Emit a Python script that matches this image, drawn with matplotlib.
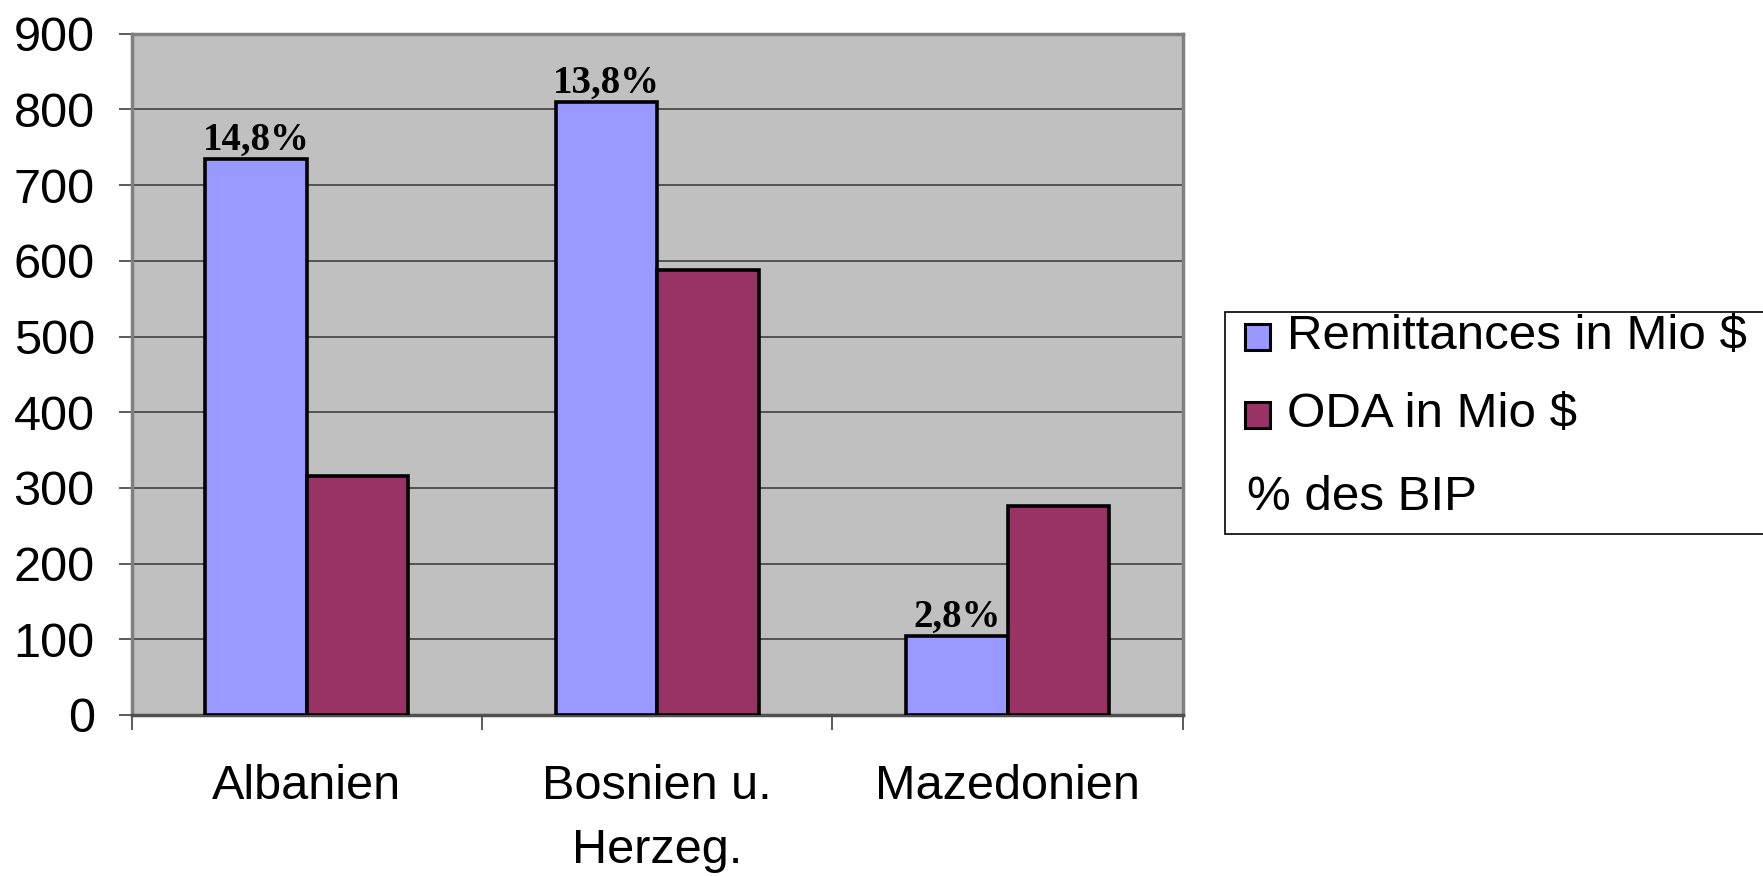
import matplotlib
matplotlib.use("Agg")
import matplotlib.pyplot as plt
import numpy as np
from matplotlib.patches import Rectangle

categories = ["Albanien", "Bosnien u.\nHerzeg.", "Mazedonien"]
remittances = [735, 810, 104]
oda = [316, 588, 276]
pct_labels = ["14,8%", "13,8%", "2,8%"]
series_names = ["Remittances in Mio $", "ODA in Mio $"]
series_colors = ['#9999FF', '#993366']
extra_label = "% des BIP"
yticks = list(range(0, 901, 100))

plt.rcParams['font.family'] = ['Liberation Sans', 'DejaVu Sans']

W, H = 1763, 876
fig = plt.figure(figsize=(W / 100, H / 100), dpi=100)
ax = fig.add_axes([0.0746, 0.1838, 0.671 - 0.0746, 0.9615 - 0.1838])
ax.set_facecolor('#C0C0C0')

x = np.arange(len(categories))
w = 0.289
b1 = ax.bar(x - w / 2, remittances, w, color=series_colors[0], edgecolor='black', linewidth=2.6, zorder=3)
b2 = ax.bar(x + w / 2, oda, w, color=series_colors[1], edgecolor='black', linewidth=2.6, zorder=3)

ax.bar_label(b1, labels=pct_labels, padding=0, fontsize=28, fontweight='bold',
             family=['Liberation Serif', 'DejaVu Serif'], zorder=4)

ax.set_xlim(-0.5, len(categories) - 0.5)
ax.set_ylim(0, 900)
ax.set_yticks(yticks)
ax.yaxis.grid(True, color='#404040', linewidth=1.2, zorder=1)
ax.set_axisbelow(True)
ax.tick_params(axis='y', labelsize=35, length=9.5, width=1.2, color='#404040', pad=17)

ax.set_xticks(x)
ax.set_xticklabels(categories, fontsize=35, linespacing=1.56)
ax.tick_params(axis='x', which='major', length=0, pad=35)
ax.set_xticks(np.arange(len(categories) + 1) - 0.5, minor=True)
ax.tick_params(axis='x', which='minor', length=11, width=1.2, color='#404040', direction='out')

for s in ax.spines.values():
    s.set_color('#808080')
    s.set_linewidth(2.5)
ax.spines['bottom'].set_color('#505050')

# legend frame
fig.patches.append(Rectangle((1225 / W, 1 - 534 / H), 0.4, (534 - 312) / H, transform=fig.transFigure,
                             facecolor='white', edgecolor='black', linewidth=1.2, zorder=0))
# legend entries
for i, (name, col) in enumerate(zip(series_names, series_colors)):
    yc = 337 + 78 * i
    fig.text(1287 / W, 1 - yc / H, name, fontsize=35.5, va='center', ha='left')
    fig.patches.append(Rectangle((1245 / W, 1 - (yc + 12.5) / H), 25 / W, 25 / H,
                                 transform=fig.transFigure, facecolor=col, edgecolor='black',
                                 linewidth=2.2, zorder=2))
fig.text(1247 / W, 1 - 497 / H, extra_label, fontsize=35.5, va='center', ha='left')

fig.savefig('out.png', dpi=100)
